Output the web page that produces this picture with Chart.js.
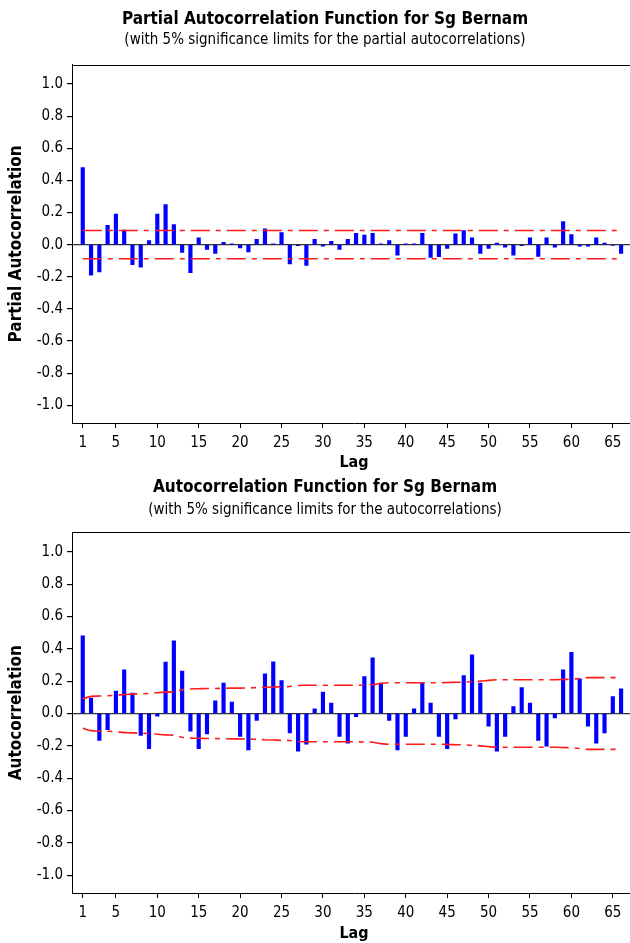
<!DOCTYPE html>
<html>
<head>
<meta charset="utf-8">
<script src="https://cdn.jsdelivr.net/npm/chart.js@4.4.1/dist/chart.umd.min.js"></script>
<style>
    html, body { margin: 0; padding: 0; overflow: hidden; background: #fff; }
    canvas { display: block; }
</style>
</head>
<body>
<canvas id="pacfChart" width="672" height="472"></canvas>
<canvas id="acfChart" width="672" height="471"></canvas>
<script>
// ---------------- DATA ----------------
const lags = [
    1, 2, 3, 4, 5, 6, 7, 8, 9, 10, 11, 12, 13, 14, 15, 16, 17, 18, 19, 20, 21, 22,
    23, 24, 25, 26, 27, 28, 29, 30, 31, 32, 33, 34, 35, 36, 37, 38, 39, 40, 41, 42, 43, 44,
    45, 46, 47, 48, 49, 50, 51, 52, 53, 54, 55, 56, 57, 58, 59, 60, 61, 62, 63, 64, 65, 66
];
const lagTicks = [1, 5, 10, 15, 20, 25, 30, 35, 40, 45, 50, 55, 60, 65];
const yTicks = [-1.0, -0.8, -0.6, -0.4, -0.2, 0.0, 0.2, 0.4, 0.6, 0.8, 1.0];

const pacfValues = [
    0.48, -0.19, -0.17, 0.12, 0.19, 0.09, -0.125, -0.14, 0.025, 0.19, 0.25,
    0.125, -0.048, -0.175, 0.042, -0.03, -0.054, 0.015, 0.005, -0.02, -0.045, 0.033,
    0.098, 0.005, 0.075, -0.12, -0.006, -0.13, 0.033, -0.01, 0.02, -0.03, 0.033,
    0.07, 0.06, 0.07, 0.005, 0.025, -0.065, 0.005, 0.005, 0.07, -0.08, -0.075,
    -0.023, 0.067, 0.088, 0.042, -0.054, -0.023, 0.01, -0.015, -0.065, -0.006, 0.042,
    -0.073, 0.042, -0.015, 0.144, 0.062, -0.01, -0.01, 0.042, 0.01, -0.005, -0.054
];
// PACF limits are flat, only the two ends are needed
const pacfLimitLags = [1, 66];
const pacfLimits = [0.088, 0.088];

const acfValues = [
    0.48, 0.095, -0.167, -0.10, 0.138, 0.27, 0.126, -0.136, -0.218, -0.016, 0.318,
    0.45, 0.262, -0.109, -0.218, -0.126, 0.078, 0.188, 0.07, -0.142, -0.225, -0.043,
    0.245, 0.32, 0.204, -0.12, -0.233, -0.19, 0.029, 0.132, 0.064, -0.142, -0.183,
    -0.019, 0.229, 0.344, 0.188, -0.043, -0.225, -0.142, 0.029, 0.188, 0.064, -0.142,
    -0.218, -0.033, 0.235, 0.363, 0.188, -0.078, -0.233, -0.142, 0.043, 0.16, 0.064,
    -0.167, -0.202, -0.027, 0.27, 0.379, 0.214, -0.078, -0.183, -0.12, 0.105, 0.153
];
const acfLimits = [
    0.091, 0.106, 0.108, 0.11, 0.113, 0.118, 0.12, 0.122, 0.124, 0.128, 0.132,
    0.134, 0.147, 0.152, 0.153, 0.155, 0.155, 0.156, 0.157, 0.157, 0.158, 0.16,
    0.162, 0.164, 0.166, 0.167, 0.173, 0.175, 0.175, 0.175, 0.175, 0.175, 0.175,
    0.175, 0.176, 0.178, 0.186, 0.19, 0.19, 0.19, 0.19, 0.19, 0.19, 0.19,
    0.192, 0.193, 0.194, 0.197, 0.2, 0.205, 0.209, 0.209, 0.209, 0.209, 0.209,
    0.209, 0.209, 0.209, 0.21, 0.212, 0.216, 0.222, 0.222, 0.222, 0.222, 0.222
];

// ---------------- STYLE ----------------
const FONT = "'DejaVu Sans Condensed', 'DejaVu Sans', sans-serif";
const BLUE = "#0000ff";
const RED = "#ff1a1a";

// black line along the top of the plot area
const topFrame = {
    id: "topFrame",
    afterDraw(chart) {
        const { ctx, chartArea } = chart;
        ctx.save();
        ctx.strokeStyle = "#000";
        ctx.lineWidth = 1;
        ctx.beginPath();
        ctx.moveTo(chartArea.left, Math.round(chartArea.top) + 0.5);
        ctx.lineTo(chartArea.right, Math.round(chartArea.top) + 0.5);
        ctx.stroke();
        ctx.restore();
    }
};

function limitDataset(points, smooth) {
    return {
        type: "line",
        data: points,
        borderColor: RED,
        borderWidth: 1.6,
        borderDash: [19, 6, 5, 6],
        pointRadius: 0,
        fill: false,
        tension: smooth ? 0.4 : 0,
        cubicInterpolationMode: smooth ? "monotone" : "default",
        order: 1,
    };
}

// ================= ONE CORRELOGRAM =================
function buildCorrelogram(canvasId, cfg) {
    const bars = lags.map((lag, i) => ({ x: lag, y: cfg.values[i] }));
    const upper = cfg.limitLags.map((lag, i) => ({ x: lag, y: cfg.limits[i] }));
    const lower = cfg.limitLags.map((lag, i) => ({ x: lag, y: -cfg.limits[i] }));

    return new Chart(document.getElementById(canvasId), {
        type: "bar",
        data: {
            datasets: [
                {
                    type: "bar",
                    data: bars,
                    backgroundColor: BLUE,
                    barThickness: 3.5,
                    order: 2,
                },
                limitDataset(upper, cfg.smooth),
                limitDataset(lower, cfg.smooth),
            ]
        },
        options: {
            responsive: false,
            animation: false,
            devicePixelRatio: 1,
            // the picture is cropped on the right, so the plot runs past the window edge
            layout: { padding: { left: 14, right: 36, top: 0, bottom: 0 } },
            plugins: {
                legend: { display: false },
                tooltip: { enabled: false },
                title: {
                    display: true,
                    text: cfg.title,
                    color: "#000",
                    font: { family: FONT, size: 17, weight: "bold", lineHeight: 1.2 },
                    padding: cfg.titlePadding,
                },
                subtitle: {
                    display: true,
                    text: cfg.subtitle,
                    color: "#000",
                    font: { family: FONT, size: 15, lineHeight: 1.2 },
                    padding: cfg.subtitlePadding,
                },
            },
            scales: {
                x: {
                    type: "linear",
                    min: -0.3,
                    max: 67.8,
                    offset: false,
                    afterBuildTicks: (s) => { s.ticks = lagTicks.map(v => ({ value: v })); },
                    afterFit: (s) => { s.height = cfg.xHeight; },
                    grid: {
                        offset: false,
                        drawOnChartArea: false,
                        drawTicks: true,
                        tickLength: 5,
                        tickColor: "#000",
                    },
                    border: { display: true, color: "#000", width: 1 },
                    ticks: {
                        color: "#000",
                        font: { family: FONT, size: 15 },
                        padding: 6,
                        maxRotation: 0,
                        autoSkip: false,
                    },
                    title: {
                        display: true,
                        text: "Lag",
                        color: "#000",
                        font: { family: FONT, size: 16, weight: "bold", lineHeight: 1.1 },
                        padding: { top: 0, bottom: 0 },
                    },
                },
                y: {
                    min: -1.11,
                    max: 1.12,
                    afterBuildTicks: (s) => { s.ticks = yTicks.map(v => ({ value: v })); },
                    afterFit: (s) => { s.width = 58; },
                    grid: {
                        drawOnChartArea: true,
                        drawTicks: true,
                        tickLength: 5,
                        tickColor: "#000",
                        lineWidth: 1.2,
                        color: (c) => (c.tick && c.tick.value === 0 ? "#333" : "rgba(0,0,0,0)"),
                    },
                    border: { display: true, color: "#000", width: 1 },
                    ticks: {
                        color: "#000",
                        font: { family: FONT, size: 15 },
                        padding: 4,
                        callback: (v) => v.toFixed(1),
                    },
                    title: {
                        display: true,
                        text: cfg.yTitle,
                        color: "#000",
                        font: { family: FONT, size: 17, weight: "bold", lineHeight: 0.35 },
                        padding: { top: 0, bottom: 0 },
                    },
                },
            },
        },
        plugins: [topFrame],
    });
}

buildCorrelogram("pacfChart", {
    values: pacfValues,
    limitLags: pacfLimitLags,
    limits: pacfLimits,
    smooth: false,
    title: "Partial Autocorrelation Function for Sg Bernam",
    subtitle: "(with 5% significance limits for the partial autocorrelations)",
    yTitle: "Partial Autocorrelation",
    titlePadding: { top: 9, bottom: 0 },
    subtitlePadding: { top: 2, bottom: 15.3 },
    xHeight: 49,
});

buildCorrelogram("acfChart", {
    values: acfValues,
    limitLags: lags,
    limits: acfLimits,
    smooth: true,
    title: "Autocorrelation Function for Sg Bernam",
    subtitle: "(with 5% significance limits for the autocorrelations)",
    yTitle: "Autocorrelation",
    titlePadding: { top: 5.8, bottom: 0 },
    subtitlePadding: { top: 3, bottom: 13.2 },
    xHeight: 50,
});
</script>
</body>
</html>
